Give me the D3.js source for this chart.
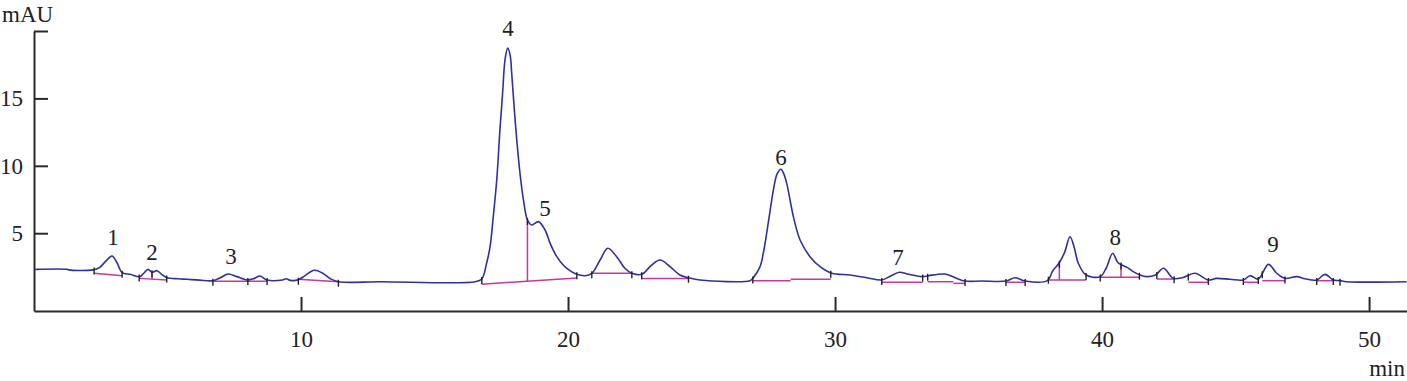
<!DOCTYPE html>
<html lang="en">
<head>
<meta charset="UTF-8">
<title>Chromatogram</title>
<script src="https://d3js.org/d3.v7.min.js"></script>
<style>
  body { margin: 0; background: #fff; }
  .trace { fill: none; stroke: #30309e; stroke-width: 1.6; }
  .base { stroke: #c8379b; stroke-width: 1.5; fill: none; }
  .mark { stroke: #222; stroke-width: 1.4; }
  .axis path, .axis line { stroke: #2a2a2a; stroke-width: 2; }
</style>
</head>
<body>
<svg width="1407" height="381"></svg>
<script>
// retention time (min) and detector signal (mAU)
var times = [0.05, 1.25, 1.30, 2.21, 2.45, 2.70, 2.92, 3.10, 3.30, 3.60, 3.97, 4.12, 4.27, 4.42, 4.61, 4.78, 4.98,
  5.40, 5.73, 6.20, 6.70, 7.00, 7.27, 7.60, 8.01, 8.25, 8.46, 8.73, 9.30, 9.45, 9.60, 9.90, 10.15, 10.49, 10.80,
  11.10, 11.40, 13.00, 16.52, 16.77, 16.95, 17.08, 17.20, 17.33, 17.45, 17.55, 17.64, 17.74, 17.83, 17.89, 17.98,
  18.08, 18.20, 18.33, 18.48, 18.64, 18.89, 19.14, 19.33, 19.58, 19.82, 20.07, 20.33, 20.64, 20.89, 21.20, 21.49,
  21.82, 22.13, 22.39, 22.76, 23.13, 23.45, 23.82, 24.19, 24.51, 24.94, 26.82, 26.92, 27.19, 27.32, 27.44, 27.57,
  27.69, 27.83, 27.97, 28.08, 28.19, 28.44, 28.69, 29.06, 29.44, 29.88, 30.56, 31.19, 31.75, 32.10, 32.41, 32.70,
  33.28, 33.50, 34.12, 34.50, 34.87, 35.50, 36.40, 36.74, 37.12, 37.95, 38.15, 38.40, 38.60, 38.80, 38.95, 39.11,
  39.40, 39.93, 40.15, 40.40, 40.58, 40.74, 40.95, 41.17, 41.42, 41.67, 42.00, 42.30, 42.67, 43.00, 43.48, 43.98,
  44.29, 44.80, 45.29, 45.54, 45.85, 46.23, 46.54, 46.85, 47.29, 47.60, 48.04, 48.35, 48.66, 48.91, 49.16, 51.40];
var signal = [2.32, 2.32, 2.28, 2.28, 2.45, 2.95, 3.31, 2.85, 2.07, 1.95, 1.78, 2.05, 2.32, 2.10, 2.22, 1.95, 1.70,
  1.62, 1.58, 1.52, 1.48, 1.72, 1.97, 1.78, 1.53, 1.65, 1.83, 1.53, 1.53, 1.62, 1.50, 1.55, 1.85, 2.25, 2.05,
  1.62, 1.40, 1.40, 1.40, 1.60, 2.77, 4.00, 6.23, 8.95, 12.67, 15.40, 17.86, 18.73, 18.23, 16.87, 14.40,
  11.92, 9.45, 7.47, 5.98, 5.61, 5.86, 5.24, 4.25, 3.26, 2.64, 2.22, 1.95, 1.85, 2.03, 3.01, 3.88,
  3.26, 2.40, 2.03, 1.95, 2.64, 3.01, 2.52, 1.90, 1.70, 1.53, 1.48, 1.65, 2.52, 3.60, 5.00, 6.70,
  8.20, 9.40, 9.75, 9.40, 8.70, 6.23, 4.50, 3.26, 2.52, 2.03, 1.90, 1.70, 1.53, 1.85, 2.10, 1.98,
  1.78, 1.85, 1.97, 1.70, 1.45, 1.45, 1.45, 1.70, 1.45, 1.48, 2.20, 2.81, 3.60, 4.74, 4.00, 2.77,
  1.90, 1.78, 2.40, 3.51, 2.85, 2.64, 2.45, 2.15, 1.90, 1.78, 1.90, 2.40, 1.65, 1.70, 2.03, 1.53,
  1.65, 1.58, 1.53, 1.85, 1.60, 2.69, 2.03, 1.65, 1.78, 1.62, 1.53, 1.95, 1.53, 1.48, 1.40, 1.40];

// integration baselines: start/end time and level (mAU)
var baseStart = [2.25, 3.94, 6.70, 9.90, 16.77, 20.89, 22.76, 26.92, 28.34, 31.75, 33.47, 34.43, 36.40, 37.99, 39.93, 42.05, 43.23, 45.29, 46.00, 48.04];
var baseEnd   = [3.30, 4.97, 8.73, 11.40, 20.33, 22.39, 24.51, 28.34, 29.84, 33.28, 34.43, 34.87, 37.12, 39.40, 41.40, 42.70, 43.98, 45.85, 46.85, 48.66];
var levelStart = [2.03, 1.65, 1.43, 1.58, 1.22, 2.03, 1.65, 1.48, 1.58, 1.36, 1.40, 1.28, 1.36, 1.53, 1.73, 1.60, 1.36, 1.36, 1.48, 1.48];
var levelEnd   = [1.85, 1.53, 1.43, 1.40, 1.68, 2.03, 1.65, 1.48, 1.58, 1.36, 1.40, 1.28, 1.36, 1.53, 1.73, 1.60, 1.36, 1.36, 1.48, 1.48];

// drop lines between fused peaks
var dropTimes = [4.42, 18.48, 38.40, 40.71];
var dropTop = [2.10, 5.95, 2.72, 2.64];
var dropBottom = [1.59, 1.45, 1.53, 1.73];

// integration marks drawn on the trace
var markTimes = [2.25, 3.30, 3.94, 4.42, 4.97, 6.70, 8.01, 8.73, 9.90, 11.40, 16.77, 18.48, 20.33, 20.89, 22.39,
  22.76, 24.51, 26.92, 29.84, 31.75, 33.28, 33.47, 34.87, 36.40, 37.12, 37.99, 38.40, 39.40, 39.93, 40.71, 41.40,
  42.05, 42.70, 43.23, 43.98, 45.29, 45.85, 46.00, 46.85, 48.04, 48.66, 48.91];

// peak numbers with their label anchor (min, mAU)
var peakNames = ["1", "2", "3", "4", "5", "6", "7", "8", "9"];
var peakTimes = [2.96, 4.42, 7.38, 17.75, 19.14, 27.98, 32.36, 40.49, 46.40];
var peakLabelAt = [4.13, 3.01, 2.72, 19.64, 6.28, 10.07, 2.64, 4.13, 3.61];

var xTicks = [10, 20, 30, 40, 50];
var yTicks = [5, 10, 15, 20];

var svg = d3.select("svg")
  .attr("font-family", "'Liberation Serif', 'Times New Roman', Times, serif")
  .attr("font-size", 23);

var x = d3.scaleLinear().domain([0, 51.42]).range([34, 1407]);
var y = d3.scaleLinear().domain([-0.77, 20]).range([311, 31]);

var points = times.map(function (t, i) { return [t, signal[i]]; });

function signalAt(t) {
  var i = d3.bisector(function (d) { return d[0]; }).left(points, t);
  if (i <= 0) return points[0][1];
  if (i >= points.length) return points[points.length - 1][1];
  var a = points[i - 1], b = points[i];
  return a[1] + (b[1] - a[1]) * (t - a[0]) / (b[0] - a[0]);
}

// axes
svg.append("g")
  .attr("class", "axis")
  .attr("transform", "translate(0,311)")
  .call(d3.axisBottom(x).tickValues(xTicks).tickSizeInner(-14).tickSizeOuter(0).tickPadding(20));

svg.append("g")
  .attr("class", "axis")
  .attr("transform", "translate(34,0)")
  .call(d3.axisLeft(y).tickValues(yTicks).tickSizeInner(-14).tickSizeOuter(0).tickPadding(11)
    .tickFormat(function (d) { return d === 20 ? "" : d; }));

// let the axis text inherit the serif font from the svg
svg.selectAll(".axis").attr("font-family", null).attr("font-size", null);
svg.selectAll(".axis text").attr("fill", "#222");

svg.append("text").attr("x", 2).attr("y", 22).attr("fill", "#222").text("mAU");
svg.append("text").attr("x", 1405).attr("y", 376).attr("text-anchor", "end").attr("fill", "#222").text("min");

// baselines
svg.append("g").selectAll("line")
  .data(baseStart)
  .enter().append("line")
  .attr("class", "base")
  .attr("x1", function (d) { return x(d); })
  .attr("x2", function (d, i) { return x(baseEnd[i]); })
  .attr("y1", function (d, i) { return y(levelStart[i]); })
  .attr("y2", function (d, i) { return y(levelEnd[i]); });

svg.append("g").selectAll("line")
  .data(dropTimes)
  .enter().append("line")
  .attr("class", "base")
  .attr("x1", function (d) { return x(d); })
  .attr("x2", function (d) { return x(d); })
  .attr("y1", function (d, i) { return y(dropTop[i]); })
  .attr("y2", function (d, i) { return y(dropBottom[i]); });

// trace
svg.append("path")
  .datum(points)
  .attr("class", "trace")
  .attr("d", d3.line()
    .x(function (d) { return x(d[0]); })
    .y(function (d) { return y(d[1]); })
    .curve(d3.curveCatmullRom.alpha(0.5)));

// integration marks on the trace
svg.append("g").selectAll("line")
  .data(markTimes)
  .enter().append("line")
  .attr("class", "mark")
  .attr("x1", function (d) { return x(d); })
  .attr("x2", function (d) { return x(d); })
  .attr("y1", function (d) { return y(signalAt(d)) - 2; })
  .attr("y2", function (d) { return y(signalAt(d)) + 5; });

// peak numbers
svg.append("g").selectAll("text")
  .data(peakNames)
  .enter().append("text")
  .attr("text-anchor", "middle")
  .attr("fill", "#222")
  .attr("x", function (d, i) { return x(peakTimes[i]); })
  .attr("y", function (d, i) { return y(peakLabelAt[i]); })
  .text(function (d) { return d; });
</script>
</body>
</html>
